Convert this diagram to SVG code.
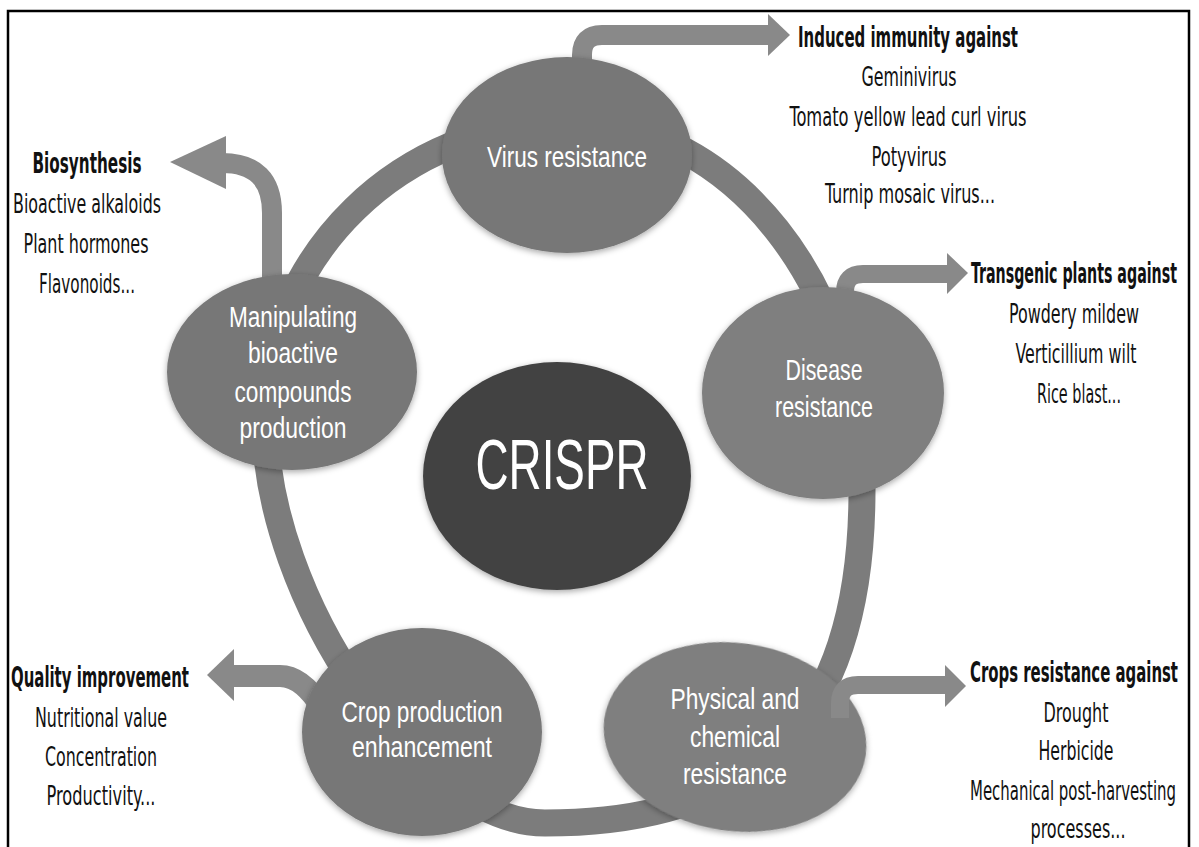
<svg xmlns="http://www.w3.org/2000/svg" width="1199" height="847" viewBox="0 0 1199 847">
  <defs>
    <style>
      .node { fill: #777777; filter: url(#soft); }
      .light { fill: #7f7f7f; }
      .core { fill: #434343; filter: url(#soft); }
      .ring { fill: none; stroke: #7c7c7c; stroke-width: 27; }
      .shaft { fill: none; stroke: #898989; stroke-width: 20; }
      .head { fill: #898989; }
      .wt { fill: #ffffff; font-family: "Liberation Sans", Arial, sans-serif; font-size: 30px; text-anchor: middle; }
      .bt { fill: #111111; font-family: "Liberation Sans Narrow", "DejaVu Sans Condensed", "Liberation Sans", sans-serif; font-size: 26px; text-anchor: middle; }
      .hd { font-weight: bold; font-size: 28px; }
    </style>
    <filter id="soft" x="-20%" y="-20%" width="140%" height="140%">
      <feDropShadow dx="0" dy="2" stdDeviation="3" flood-color="#000000" flood-opacity="0.35"/>
    </filter>
  </defs>

  <rect x="0" y="0" width="1199" height="847" fill="#ffffff"/>
  <!-- frame (bottom edge falls outside the canvas) -->
  <path d="M 8 850 L 8 11 L 1189 11 L 1189 850" fill="none" stroke="#000000" stroke-width="2.5"/>

  <!-- connectors: the cycle ring and the outward arrows -->
  <g id="connectors">
    <path class="ring" d="M 571 122 C 732 122 862 287 862 490 C 862 720 760 823 545 823 C 420 823 265 600 265 420 C 265 255 402 122 571 122 Z"/>
    <!-- virus resistance -> induced immunity -->
    <path class="shaft" d="M 582 80 L 582 55 Q 582 35 602 35 L 770 35"/>
    <polygon class="head" points="768,14 790,35 768,56"/>
    <!-- disease resistance -> transgenic plants -->
    <path class="shaft" style="stroke-width:18" d="M 845 305 L 845 292 Q 845 274 863 274 L 949 274"/>
    <polygon class="head" points="947,253 968,273 947,294"/>
    <!-- manipulating -> biosynthesis -->
    <path class="shaft" d="M 272 290 L 272 213 Q 272 163 222 163"/>
    <polygon class="head" points="226,136 170,162 226,189"/>
    <!-- crop production -> quality improvement -->
    <path class="shaft" style="stroke-width:22" d="M 231 676 L 280 676 Q 302 676 322 708"/>
    <polygon class="head" points="234,649 207,675 234,701"/>
  </g>

  <g id="virus">
    <ellipse class="node" cx="567" cy="155" rx="125" ry="98"/>
    <text class="wt" x="567" y="167" textLength="160" lengthAdjust="spacingAndGlyphs">Virus resistance</text>
  </g>

  <g id="disease">
    <ellipse class="node light" cx="823" cy="393" rx="121" ry="106"/>
    <text class="wt" x="824" y="380" textLength="77" lengthAdjust="spacingAndGlyphs">Disease</text>
    <text class="wt" x="824" y="417" textLength="98" lengthAdjust="spacingAndGlyphs">resistance</text>
  </g>

  <g id="manipulating">
    <ellipse class="node" cx="292" cy="372" rx="125" ry="98"/>
    <text class="wt" x="293" y="327" textLength="128" lengthAdjust="spacingAndGlyphs">Manipulating</text>
    <text class="wt" x="293" y="363" textLength="90" lengthAdjust="spacingAndGlyphs">bioactive</text>
    <text class="wt" x="293" y="402" textLength="117" lengthAdjust="spacingAndGlyphs">compounds</text>
    <text class="wt" x="293" y="438" textLength="107" lengthAdjust="spacingAndGlyphs">production</text>
  </g>

  <g id="crispr">
    <ellipse class="core" cx="557" cy="476" rx="134" ry="114"/>
    <text class="wt" x="562" y="489" style="font-size:71px" textLength="173" lengthAdjust="spacingAndGlyphs">CRISPR</text>
  </g>

  <g id="crop">
    <ellipse class="node" cx="422" cy="732" rx="120" ry="104"/>
    <text class="wt" x="422" y="722" textLength="161" lengthAdjust="spacingAndGlyphs">Crop production</text>
    <text class="wt" x="422" y="757" textLength="140" lengthAdjust="spacingAndGlyphs">enhancement</text>
  </g>

  <g id="physical">
    <ellipse class="node light" cx="735" cy="737" rx="132" ry="94" transform="rotate(8 735 737)"/>
    <!-- arrow leaves from inside this node, drawn over it -->
    <path class="shaft" style="stroke-width:18" d="M 840 718 L 840 703 Q 840 685 858 685 L 947 685"/>
    <polygon class="head" points="945,665 966,686 945,707"/>
    <text class="wt" x="735" y="709" textLength="129" lengthAdjust="spacingAndGlyphs">Physical and</text>
    <text class="wt" x="735" y="747" textLength="90" lengthAdjust="spacingAndGlyphs">chemical</text>
    <text class="wt" x="735" y="784" textLength="104" lengthAdjust="spacingAndGlyphs">resistance</text>
  </g>

  <g id="immunity-list">
    <text class="bt hd" x="908" y="47" textLength="220" lengthAdjust="spacingAndGlyphs">Induced immunity against</text>
    <text class="bt" x="909" y="86" textLength="95" lengthAdjust="spacingAndGlyphs">Geminivirus</text>
    <text class="bt" x="908" y="126" textLength="237" lengthAdjust="spacingAndGlyphs">Tomato yellow lead curl virus</text>
    <text class="bt" x="909" y="166" textLength="75" lengthAdjust="spacingAndGlyphs">Potyvirus</text>
    <text class="bt" x="910" y="203" textLength="170" lengthAdjust="spacingAndGlyphs">Turnip mosaic virus...</text>
  </g>

  <g id="transgenic-list">
    <text class="bt hd" x="1074" y="283" textLength="206" lengthAdjust="spacingAndGlyphs">Transgenic plants against</text>
    <text class="bt" x="1074" y="323" textLength="130" lengthAdjust="spacingAndGlyphs">Powdery mildew</text>
    <text class="bt" x="1076" y="363" textLength="121" lengthAdjust="spacingAndGlyphs">Verticillium wilt</text>
    <text class="bt" x="1079" y="403" textLength="84" lengthAdjust="spacingAndGlyphs">Rice blast...</text>
  </g>

  <g id="crops-list">
    <text class="bt hd" x="1074" y="682" textLength="208" lengthAdjust="spacingAndGlyphs">Crops resistance against</text>
    <text class="bt" x="1076" y="722" textLength="65" lengthAdjust="spacingAndGlyphs">Drought</text>
    <text class="bt" x="1076" y="760" textLength="75" lengthAdjust="spacingAndGlyphs">Herbicide</text>
    <text class="bt" x="1073" y="800" textLength="206" lengthAdjust="spacingAndGlyphs">Mechanical post-harvesting</text>
    <text class="bt" x="1078" y="838" textLength="95" lengthAdjust="spacingAndGlyphs">processes...</text>
  </g>

  <g id="biosynthesis-list">
    <text class="bt hd" x="87" y="173" textLength="109" lengthAdjust="spacingAndGlyphs">Biosynthesis</text>
    <text class="bt" x="87" y="213" textLength="148" lengthAdjust="spacingAndGlyphs">Bioactive alkaloids</text>
    <text class="bt" x="86" y="253" textLength="125" lengthAdjust="spacingAndGlyphs">Plant hormones</text>
    <text class="bt" x="87" y="293" textLength="96" lengthAdjust="spacingAndGlyphs">Flavonoids...</text>
  </g>

  <g id="quality-list">
    <text class="bt hd" x="100" y="687" textLength="178" lengthAdjust="spacingAndGlyphs">Quality improvement</text>
    <text class="bt" x="101" y="727" textLength="132" lengthAdjust="spacingAndGlyphs">Nutritional value</text>
    <text class="bt" x="101" y="766" textLength="112" lengthAdjust="spacingAndGlyphs">Concentration</text>
    <text class="bt" x="101" y="805" textLength="109" lengthAdjust="spacingAndGlyphs">Productivity...</text>
  </g>
</svg>
